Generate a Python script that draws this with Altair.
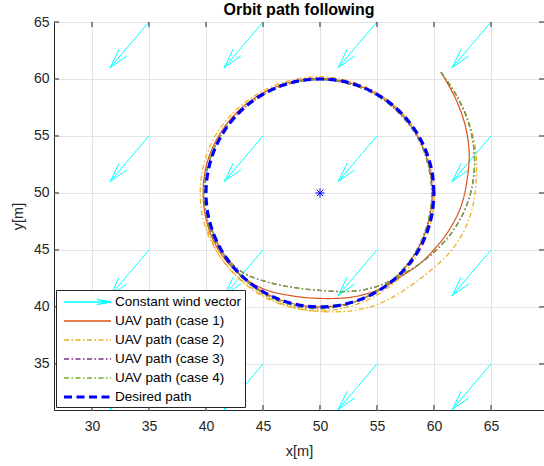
import math
import altair as alt
import numpy as np
import pandas as pd

# ---------------- data ----------------
CX, CY = 50.0, 50.0  # orbit centre

# polar angle (deg, measured from +x about the centre) at which the radii were read
path_theta = [45, 35, 25, 15, 5, -5, -15, -25, -35, -45, -55, -65, -75,
              -90, -105, -120, -135, -150, -165, -180, -195, -210, -225, -240, -255,
              -270, -285, -300, -315, -330, -345, -360, -375, -390, -405, -420, -435,
              -450, -465, -480, -495, -510, -525]
r_case1 = [15.0, 14.5, 14.05, 13.55, 12.95, 12.45, 11.85, 11.25, 10.75, 10.25, 10.0, 9.75, 9.5,
           9.25, 9.35, 9.75, 10.05, 10.2, 10.25, 10.25, 10.25, 10.2, 10.15, 10.1, 10.05,
           10.05, 10.0, 10.0, 9.95, 9.9, 9.85, 9.85, 9.85, 9.9, 9.95, 10.0, 10.0,
           10.0, 10.0, 10.0, 10.0, 10.0, 10.05]
r_case2 = [15.0, 14.72, 14.45, 14.15, 13.75, 13.45, 13.05, 12.5, 11.85, 11.4, 11.15, 10.95, 10.7,
           10.4, 10.3, 10.25, 10.3, 10.4, 10.5, 10.5, 10.5, 10.45, 10.35, 10.25, 10.2,
           10.2, 10.15, 10.1, 10.05, 10.0, 10.0, 10.0, 10.05, 10.1, 10.2, 10.25, 10.3,
           10.35, 10.35, 10.35, 10.35, 10.4, 10.4]
r_case3 = [15.0, 14.7, 14.4, 14.0, 13.5, 12.9, 12.2, 11.45, 10.75, 10.15, 9.75, 9.35, 8.95,
           8.55, 8.6, 9.05, 9.75, 10.05, 10.15, 10.15, 10.1, 10.05, 10.0, 9.95, 9.95,
           9.95, 9.9, 9.9, 9.85, 9.85, 9.8, 9.8, 9.8, 9.85, 9.9, 9.95, 10.05,
           10.15, 10.15, 10.1, 10.05, 10.05, 10.05]
r_case4 = [15.0, 14.7, 14.4, 14.0, 13.5, 12.9, 12.2, 11.45, 10.75, 10.15, 9.75, 9.35, 8.95,
           8.55, 8.6, 9.05, 9.75, 10.05, 10.15, 10.15, 10.1, 10.05, 10.0, 9.95, 9.95,
           9.95, 9.9, 9.9, 9.85, 9.85, 9.8, 9.8, 9.8, 9.85, 9.9, 9.95, 10.05,
           10.15, 10.15, 10.1, 10.05, 10.05, 10.05]

desired_theta = [0, 10, 20, 30, 40, 50, 60, 70, 80, 90, 100, 110, 120, 130, 140, 150, 160, 170, 180,
                 190, 200, 210, 220, 230, 240, 250, 260, 270, 280, 290, 300, 310, 320, 330, 340, 350, 360]
desired_radius = 10.0

wind_tail_x = [35, 45, 55, 65]
wind_tail_y = [65, 55, 45, 35]
wind_u, wind_v = -3.4, -4.0

x_ticks = [30, 35, 40, 45, 50, 55, 60, 65]
y_ticks = [35, 40, 45, 50, 55, 60, 65]
X_DOMAIN = [26.67, 69.65]
Y_DOMAIN = [30.96, 65.0]

series_names = ["Constant wind vector", "UAV path (case 1)", "UAV path (case 2)",
                "UAV path (case 3)", "UAV path (case 4)", "Desired path"]

# ---------------- styles ----------------
C_WIND = "#00FFFF"
C1, C2, C3, C4 = "#D95319", "#EDB120", "#7E2F8E", "#77AC30"
C_DES = "#0000FF"
DASHDOT = [5, 2.5, 1.5, 2.5]
DASHED = [8, 4.5]
FONT = "Liberation Sans"
W, H = 490, 388

# ---------------- build tables ----------------
def polar_df(theta, radius):
    th = np.radians(np.asarray(theta, dtype=float))
    r = np.asarray(radius, dtype=float) if np.ndim(radius) else np.full(len(theta), radius)
    return pd.DataFrame({"order": np.arange(len(theta)),
                         "x": CX + r * np.cos(th), "y": CY + r * np.sin(th)})

# quiver arrows: shaft + two head barbs
rows = []
L = math.hypot(wind_u, wind_v)
ang = math.atan2(wind_v, wind_u)
head = 0.34 * L
spread = math.radians(14.5)
for tx in wind_tail_x:
    for ty in wind_tail_y:
        hx, hy = tx + wind_u, ty + wind_v
        rows.append(dict(x=tx, y=ty, x2=hx, y2=hy))
        for s in (1, -1):
            b = ang + math.pi + s * spread
            rows.append(dict(x=hx, y=hy, x2=hx + head * math.cos(b), y2=hy + head * math.sin(b)))
wind_df = pd.DataFrame(rows)

xs = alt.Scale(domain=X_DOMAIN, nice=False, zero=False)
ys = alt.Scale(domain=Y_DOMAIN, nice=False, zero=False)
axis_common = dict(grid=True, ticks=False, tickSize=0, domain=False, gridColor="#e3e3e3", gridWidth=1,
                   labelFont=FONT, labelFontSize=14, labelColor="#262626",
                   titleFont=FONT, titleFontSize=14.5, titleColor="#262626", titleFontWeight="normal")
x_axis = alt.Axis(values=x_ticks, title="x[m]", labelPadding=9, titleY=41, titleBaseline="middle",
                  **axis_common)
y_axis = alt.Axis(values=y_ticks, title="y[m]", labelPadding=5, titleX=-36, titleY=H / 2, titleAngle=270,
                  titleAlign="center", titleBaseline="middle", **axis_common)

def X(f):
    return alt.X(f, type="quantitative", scale=xs, axis=x_axis)

def Y(f):
    return alt.Y(f, type="quantitative", scale=ys, axis=y_axis)

wind = alt.Chart(wind_df).mark_rule(color=C_WIND, strokeWidth=1, clip=True).encode(
    x=X("x"), y=Y("y"), x2="x2:Q", y2="y2:Q")

def path_layer(radii, color, dash, width):
    return alt.Chart(polar_df(path_theta, radii)).mark_line(
        color=color, strokeDash=dash, strokeWidth=width, interpolate="catmull-rom", clip=True
    ).encode(x=X("x"), y=Y("y"), order="order:Q")

p1 = path_layer(r_case1, C1, [1, 0], 1.2)
p2 = path_layer(r_case2, C2, DASHDOT, 1.3)
p3 = path_layer(r_case3, C3, DASHDOT, 1.3)
p4 = path_layer(r_case4, C4, DASHDOT, 1.3)
desired = alt.Chart(polar_df(desired_theta, desired_radius)).mark_line(
    color=C_DES, strokeDash=DASHED, strokeWidth=3.2, interpolate="catmull-rom", clip=True
).encode(x=X("x"), y=Y("y"), order="order:Q")

center = alt.Chart(pd.DataFrame({"x": [CX], "y": [CY]})).mark_point(
    shape="M0,-1L0,1M-1,0L1,0M-0.7,-0.7L0.7,0.7M-0.7,0.7L0.7,-0.7",
    size=81, color=C_DES, filled=False, strokeWidth=1, opacity=1
).encode(x=X("x"), y=Y("y"))

# inward box ticks
xt = pd.DataFrame({"v": x_ticks})
yt = pd.DataFrame({"v": y_ticks})
tick_style = dict(color="#262626", strokeWidth=1)
ticks = [
    alt.Chart(xt).mark_rule(**tick_style).encode(x=X("v"), y=alt.value(H), y2=alt.value(H - 5)),
    alt.Chart(xt).mark_rule(**tick_style).encode(x=X("v"), y=alt.value(0), y2=alt.value(5)),
    alt.Chart(yt).mark_rule(**tick_style).encode(y=Y("v"), x=alt.value(0), x2=alt.value(5)),
    alt.Chart(yt).mark_rule(**tick_style).encode(y=Y("v"), x=alt.value(W), x2=alt.value(W - 5)),
]

# legend (symbols only; points sit outside the clipped view)
LINE = "M-0.5,0L5.375,0"
shapes = ["M-0.5,0L5.375,0M3.6,-0.32L5.375,0L3.6,0.32", LINE, LINE, LINE, LINE,
          "M-0.5,-0.12L5.375,-0.12M-0.5,0L5.375,0M-0.5,0.12L5.375,0.12"]
dashes = [[1, 0], [1, 0], DASHDOT, DASHDOT, DASHDOT, DASHED]
colors = [C_WIND, C1, C2, C3, C4, C_DES]
leg = alt.Legend(title=None, orient="none", legendX=2, legendY=268, fillColor="white",
                 strokeColor="#262626", padding=3, labelFont=FONT, labelFontSize=13.5,
                 labelColor="#000000", labelOffset=38, symbolSize=256, symbolStrokeWidth=1.3,
                 rowPadding=3, labelLimit=0)
legend_df = pd.DataFrame({"series": series_names, "x": [0.0] * 6, "y": [0.0] * 6})
legend_layer = alt.Chart(legend_df).mark_point(filled=False, clip=True, opacity=1, strokeWidth=1.3).encode(
    x=X("x"), y=Y("y"),
    color=alt.Color("series:N", scale=alt.Scale(domain=series_names, range=colors), legend=leg),
    shape=alt.Shape("series:N", scale=alt.Scale(domain=series_names, range=shapes), legend=leg),
    strokeDash=alt.StrokeDash("series:N", scale=alt.Scale(domain=series_names, range=dashes), legend=leg),
)

chart = alt.layer(wind, p1, p2, p3, p4, desired, center, *ticks, legend_layer).properties(
    width=W, height=H,
    title=alt.TitleParams("Orbit path following", fontSize=16, fontWeight="bold", font=FONT,
                          color="#000000", anchor="middle", baseline="alphabetic", offset=0, dy=16),
    autosize=alt.AutoSizeParams(type="none"),
    padding={"left": 54, "top": 22, "right": 0, "bottom": 56},
    background="white",
).configure_view(stroke="#262626", strokeWidth=1)

chart.save("out.html", embed_options={"renderer": "svg", "actions": False})
